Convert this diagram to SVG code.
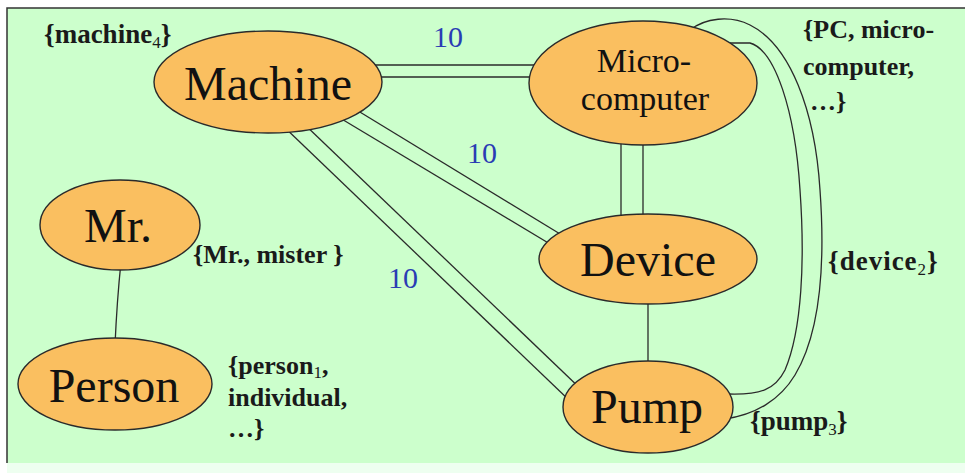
<svg xmlns="http://www.w3.org/2000/svg" width="965" height="473" viewBox="0 0 965 473">
  <style>
    text { font-family: "Liberation Serif", "Times New Roman", serif; }
    .node { fill: #fabf60; stroke: #2a2a2a; stroke-width: 1.4; }
    .big { font-size: 48px; fill: #111; text-anchor: middle; }
    .mid { font-size: 34px; fill: #111; text-anchor: middle; }
    .syn { font-size: 26px; font-weight: bold; fill: #1a1a1a; }
    .syn.lg { font-size: 27px; }
    .sub { font-size: 17px; font-weight: normal; }
    .w { font-size: 30px; fill: #2a3cb4; }
    .edge { fill: none; stroke: #2a2a2a; stroke-width: 1.3; }
  </style>

  <!-- background panel -->
  <rect x="0" y="0" width="965" height="473" fill="#ffffff"/>
  <rect x="7" y="8" width="958" height="455" fill="#ccffcc"/>
  <rect x="7" y="463" width="958" height="10" fill="#eefff0"/>
  <path d="M7,463 V8 H965" fill="none" stroke="#333" stroke-width="1.5"/>

  <!-- connectors -->
  <g id="connectors">
    <!-- Machine - Micro-computer -->
    <line class="edge" x1="360" y1="65" x2="545" y2="65"/>
    <line class="edge" x1="370" y1="77" x2="545" y2="77"/>
    <!-- Micro-computer - Device -->
    <line class="edge" x1="621" y1="130" x2="621" y2="225"/>
    <line class="edge" x1="643" y1="130" x2="643" y2="225"/>
    <!-- Machine - Device -->
    <line class="edge" x1="350" y1="106" x2="570" y2="240"/>
    <line class="edge" x1="335" y1="115" x2="560" y2="250"/>
    <!-- Machine - Pump -->
    <line class="edge" x1="280" y1="123" x2="570" y2="401"/>
    <line class="edge" x1="302" y1="122" x2="585" y2="393"/>
    <!-- Device - Pump -->
    <line class="edge" x1="648" y1="295" x2="648" y2="370"/>
    <!-- Mr. - Person -->
    <path class="edge" d="M121,262 Q117,300 115,345"/>
    <!-- Micro-computer - Pump (outer arc) -->
    <path class="edge" d="M690,30 C705,18 730,15 750,25 C790,45 815,110 820,190 C825,260 822,330 795,375 C780,400 755,415 725,419"/>
    <!-- Micro-computer - Pump (inner arc) -->
    <path class="edge" d="M730,43 L750,43 C775,50 795,110 800,190 C805,260 802,330 785,370 C775,390 760,395 728,394"/>
  </g>

  <!-- nodes -->
  <g id="machine">
    <ellipse class="node" cx="268" cy="82" rx="114" ry="51"/>
    <text class="big" x="268" y="100">Machine</text>
  </g>
  <g id="microcomputer">
    <ellipse class="node" cx="643" cy="83" rx="114" ry="62"/>
    <text class="mid" x="644" y="72">Micro-</text>
    <text class="mid" x="645" y="110">computer</text>
  </g>
  <g id="mr">
    <ellipse class="node" cx="120" cy="225" rx="80" ry="45"/>
    <text class="big" x="118" y="242">Mr.</text>
  </g>
  <g id="person">
    <ellipse class="node" cx="115" cy="384" rx="97" ry="46"/>
    <text class="big" x="114" y="402">Person</text>
  </g>
  <g id="device">
    <ellipse class="node" cx="648" cy="259" rx="109" ry="45"/>
    <text class="big" x="648" y="276">Device</text>
  </g>
  <g id="pump">
    <ellipse class="node" cx="648" cy="407" rx="85" ry="46"/>
    <text class="big" x="647" y="423">Pump</text>
  </g>

  <!-- synonym sets -->
  <g id="synsets">
    <text class="syn lg" x="44" y="43">{machine<tspan class="sub" dy="5">4</tspan><tspan dy="-5">}</tspan></text>
    <text class="syn" x="803" y="38">{PC, micro-</text>
    <text class="syn" x="803" y="75">computer,</text>
    <text class="syn" x="810" y="110">…}</text>
    <text class="syn" x="193" y="263">{Mr., mister }</text>
    <text class="syn" x="228" y="374">{person<tspan class="sub" dy="4">1</tspan><tspan dy="-4">,</tspan></text>
    <text class="syn" x="228" y="406">individual,</text>
    <text class="syn" x="228" y="437">…}</text>
    <text class="syn lg" x="828" y="270" letter-spacing="1">{device<tspan class="sub" dy="5">2</tspan><tspan dy="-5">}</tspan></text>
    <text class="syn lg" x="750" y="430">{pump<tspan class="sub" dy="5">3</tspan><tspan dy="-5">}</tspan></text>
  </g>

  <!-- edge weights -->
  <g id="weights">
    <text class="w" x="433" y="47">10</text>
    <text class="w" x="467" y="163">10</text>
    <text class="w" x="388" y="288">10</text>
  </g>
</svg>
